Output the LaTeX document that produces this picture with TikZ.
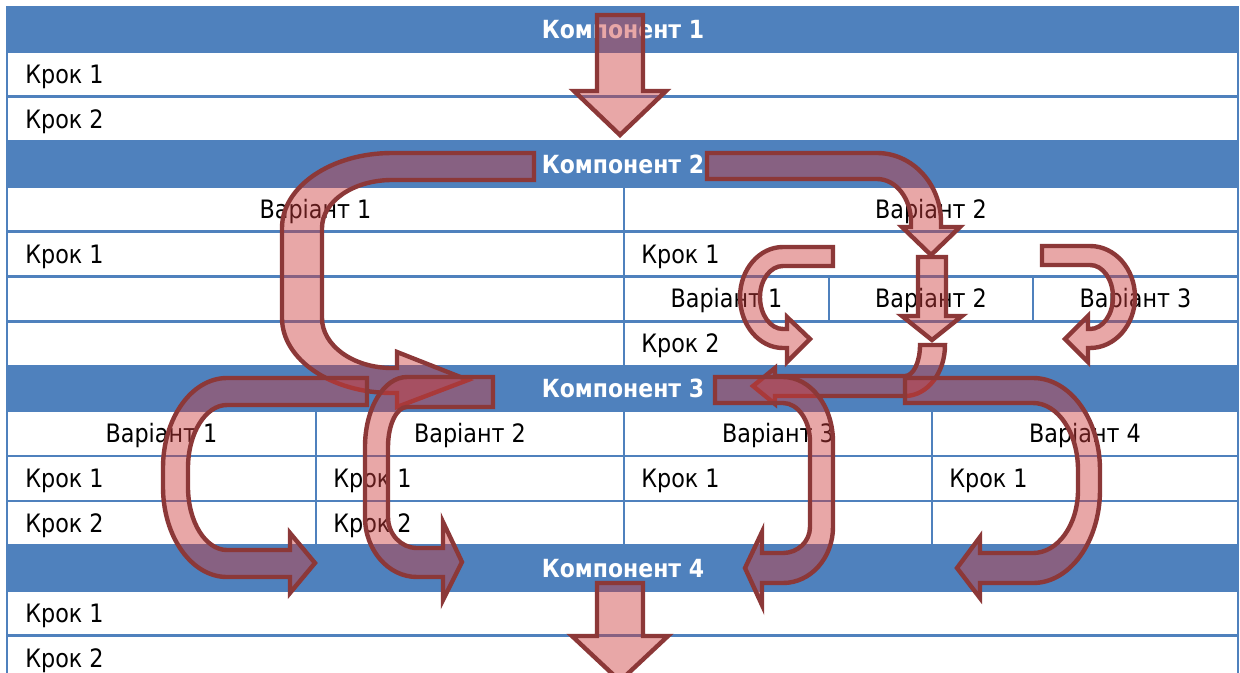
\documentclass[tikz,border=0pt]{standalone}
\usepackage{fontspec}
\setmainfont{DejaVu Sans}[FakeStretch=0.88]
\usetikzlibrary{calc}
\definecolor{hdr}{RGB}{79,129,189}
\definecolor{arrfill}{RGB}{205,60,60}
\definecolor{arrline}{RGB}{140,56,56}
% quarter-ellipse helpers: horizontal tangent -> vertical tangent, and vice versa
\newcommand\arcHV[4]{.. controls ($(#1,#2)!0.5523!(#3,#2)$) and ($(#3,#4)!0.5523!(#3,#2)$) .. (#3,#4)}
\newcommand\arcVH[4]{.. controls ($(#1,#2)!0.5523!(#1,#4)$) and ($(#3,#4)!0.5523!(#1,#4)$) .. (#3,#4)}
\tikzset{
  tline/.style={draw=hdr, line width=2pt},
  htext/.style={text=white, font=\bfseries\fontsize{18.75}{22}\selectfont, inner sep=0pt, anchor=base},
  ctext/.style={font=\fontsize{19}{22}\selectfont, inner sep=0pt, anchor=base},
  ltext/.style={font=\fontsize{19}{22}\selectfont, inner sep=0pt, anchor=base west},
  blk/.style={draw=arrline, line width=3.3pt, fill=arrfill, fill opacity=0.45, line join=miter, miter limit=6},
}
\begin{document}
\begin{tikzpicture}[x=0.75pt,y=-0.75pt]
\useasboundingbox (0,0) rectangle (1240,672);
\clip (0,0) rectangle (1240,672);
\fill[white] (0,0) rectangle (1240,672);
% header bands
\foreach \t/\b in {7/51.9, 141.7/186.6, 366.2/411.1, 545.8/590.7}
  \fill[hdr] (7,\t) rectangle (1238,\b);
% horizontal rules
\foreach \y in {7,51.9,96.8,141.7,186.6,231.5,276.4,321.3,366.2,411.1,456,500.9,545.8,590.7,635.6}
  \draw[tline] (7,\y) -- (1238,\y);
\draw[tline] (7,6) -- (7,690) (1238,6) -- (1238,690);
% vertical rules
\draw[tline] (624,186.6) -- (624,366.2);
\draw[tline] (829,276.4) -- (829,321.3) (1033,276.4) -- (1033,321.3);
\draw[tline] (316,411.1) -- (316,545.8) (624,411.1) -- (624,545.8) (932,411.1) -- (932,545.8);

% texts
\node[htext] (c1) at (623,38.5) {Компонент 1};
\node[ltext] (c1s1) at (25,83.4) {Крок 1};
\node[ltext] (c1s2) at (25,128.3) {Крок 2};
\node[htext] (c2) at (623,173.2) {Компонент 2};
\node[ctext] (c2v1) at (315.5,218.1) {Варіант 1};
\node[ctext] (c2v2) at (931,218.1) {Варіант 2};
\node[ltext] (c2v1s1) at (25,263) {Крок 1};
\node[ltext] (c2v2s1) at (641,263) {Крок 1};
\node[ctext] (c2v2a) at (726.5,307.9) {Варіант 1};
\node[ctext] (c2v2b) at (931,307.9) {Варіант 2};
\node[ctext] (c2v2c) at (1135.5,307.9) {Варіант 3};
\node[ltext] (c2v2s2) at (641,352.8) {Крок 2};
\node[htext] (c3) at (623,397.7) {Компонент 3};
\node[ctext] (c3v1) at (161.5,442.6) {Варіант 1};
\node[ctext] (c3v2) at (470,442.6) {Варіант 2};
\node[ctext] (c3v3) at (778,442.6) {Варіант 3};
\node[ctext] (c3v4) at (1085,442.6) {Варіант 4};
\node[ltext] (c3v1s1) at (25,487.5) {Крок 1};
\node[ltext] (c3v2s1) at (333,487.5) {Крок 1};
\node[ltext] (c3v3s1) at (641,487.5) {Крок 1};
\node[ltext] (c3v4s1) at (949,487.5) {Крок 1};
\node[ltext] (c3v1s2) at (25,532.4) {Крок 2};
\node[ltext] (c3v2s2) at (333,532.4) {Крок 2};
\node[htext] (c4) at (623,577.3) {Компонент 4};
\node[ltext] (c4s1) at (25,622.2) {Крок 1};
\node[ltext] (c4s2) at (25,667.1) {Крок 2};

% arrows
% K1 -> K2
\draw[blk] (597,15) -- (643,15) -- (643,91) -- (666,91) -- (620,135) -- (574,91) -- (597,91) -- cycle;
% K2 -> K3 (big C, left)
\draw[blk] (534,153) -- (392,153) \arcHV{392}{153}{282}{228} -- (282,318) \arcVH{282}{318}{392}{393}
  -- (397,393) -- (397,407) -- (468,380) -- (397,352) -- (397,368) -- (392,368)
  \arcHV{392}{368}{322}{318} -- (322,228) \arcVH{322}{228}{392}{180} -- (534,180) -- cycle;
% K2 -> variant 2 (bent, right)
\draw[blk] (707,153) -- (877,153) \arcHV{877}{153}{941}{222} -- (941,227) -- (960,227) -- (931,255)
  -- (902,227) -- (911,227) -- (911,222) \arcVH{911}{222}{877}{179} -- (707,179) -- cycle;
% variant 2 straight down
\draw[blk] (918,257) -- (946,257) -- (946,316) -- (962,316) -- (932,340) -- (902,316) -- (918,316) -- cycle;
% down-left to K3
\draw[blk] (920,345) -- (945,345) \arcVH{945}{345}{905}{396} -- (775,396) -- (775,404) -- (753,386)
  -- (775,368) -- (775,376) -- (905,376) \arcHV{905}{376}{920}{345} -- cycle;
% small U-turn left
\draw[blk] (833,247) -- (783,247) \arcHV{783}{247}{740}{297} \arcVH{740}{297}{783}{348} -- (787,348)
  -- (787,362) -- (810,339) -- (787,317) -- (787,329) -- (783,329) \arcHV{783}{329}{760}{297}
  \arcVH{760}{297}{783}{266} -- (833,266) -- cycle;
% small U-turn right
\draw[blk] (1042,246) -- (1090,246) \arcHV{1090}{246}{1135}{297} \arcVH{1135}{297}{1090}{348} -- (1088,348)
  -- (1088,362) -- (1065,339) -- (1088,316) -- (1088,329) -- (1090,329) \arcHV{1090}{329}{1113}{297}
  \arcVH{1113}{297}{1090}{265} -- (1042,265) -- cycle;
% K3 -> K4 left C 1
\draw[blk] (367,378) -- (227,378) \arcHV{227}{378}{163}{468} -- (163,487) \arcVH{163}{487}{227}{577}
  -- (290,577) -- (290,593) -- (315,563) -- (290,533) -- (290,550) -- (227,550)
  \arcHV{227}{550}{188}{487} -- (188,468) \arcVH{188}{468}{227}{405} -- (367,405) -- cycle;
% K3 -> K4 left C 2
\draw[blk] (493,377) -- (407,377) \arcHV{407}{377}{365}{447} -- (365,517) \arcVH{365}{517}{417}{577}
  -- (443,577) -- (443,600) -- (462,562) -- (443,522) -- (443,548) -- (417,548)
  \arcHV{417}{548}{388}{517} -- (388,447) \arcVH{388}{447}{407}{407} -- (493,407) -- cycle;
% K3 -> K4 right C 1
\draw[blk] (715,377) -- (783,377) \arcHV{783}{377}{833}{442} -- (833,527) \arcVH{833}{527}{783}{583}
  -- (762,583) -- (762,605) -- (745,568) -- (762,532) -- (762,553) -- (783,553)
  \arcHV{783}{553}{810}{527} -- (810,442) \arcVH{810}{442}{783}{403} -- (715,403) -- cycle;
% K3 -> K4 right C 2
\draw[blk] (905,378) -- (1033,378) \arcHV{1033}{378}{1100}{470} -- (1100,490) \arcVH{1100}{490}{1033}{583}
  -- (980,583) -- (980,598) -- (957,568) -- (980,537) -- (980,553) -- (1033,553)
  \arcHV{1033}{553}{1078}{490} -- (1078,470) \arcVH{1078}{470}{1033}{403} -- (905,403) -- cycle;
% K4 down
\draw[blk] (597,583) -- (643,583) -- (643,636) -- (668,636) -- (620,681) -- (572,636) -- (597,636) -- cycle;
\end{tikzpicture}
\end{document}
